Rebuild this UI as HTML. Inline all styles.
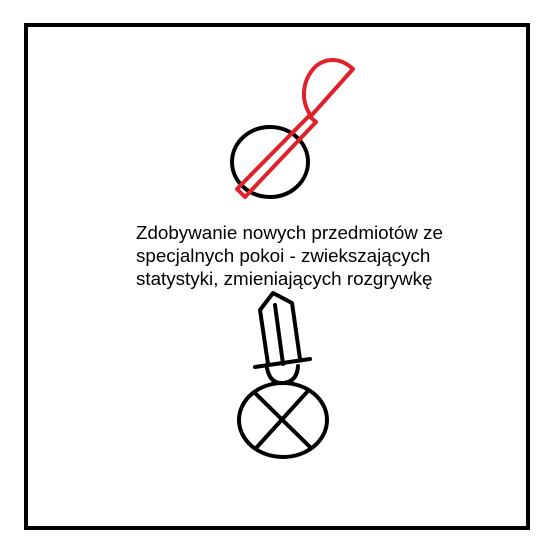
<!DOCTYPE html>
<html><head><meta charset="utf-8"><style>
html,body{margin:0;padding:0;background:#fff;}
svg{display:block}
</style></head><body>
<svg width="550" height="550" viewBox="0 0 550 550">
<rect x="26" y="25" width="502" height="503" fill="none" stroke="#000" stroke-width="4"/>
<g fill="none" stroke-width="4" stroke-linejoin="round">
<ellipse cx="270" cy="162" rx="38" ry="35" stroke="#000"/>
<polygon points="237,189 245,197 316,122 309,116" stroke="#e2202a"/>
<path d="M311,116 C300,100 302,80 316,66 C326,58 340,57 353,69 Z" stroke="#e2202a"/>
</g>
<text font-family="Liberation Sans, Arial, sans-serif" font-size="18.8" fill="#000">
<tspan x="136" y="239">Zdobywanie nowych przedmiotów ze</tspan>
<tspan x="136" y="262">specjalnych pokoi - zwiekszających</tspan>
<tspan x="136" y="285">statystyki, zmieniających rozgrywkę</tspan>
</text>
<g fill="none" stroke="#000" stroke-width="4" stroke-linecap="round" stroke-linejoin="round">
<polyline points="268,364 260,310 273,293 292,303 300,359"/>
<line x1="275" y1="305" x2="283" y2="364"/>
<line x1="255" y1="367" x2="310" y2="359"/>
<path d="M267,368 Q270,384 283,383 Q297,382 298,366"/>
<ellipse cx="283" cy="420" rx="44" ry="37"/>
<line x1="255" y1="393" x2="310" y2="447"/>
<line x1="307" y1="392" x2="257" y2="447"/>
</g>
</svg>
</body></html>
